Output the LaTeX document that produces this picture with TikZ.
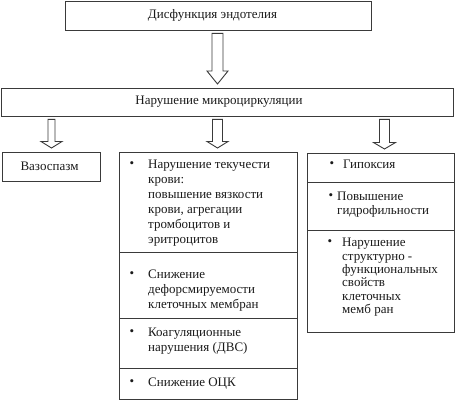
\documentclass[tikz,border=0pt]{standalone}
\usepackage{fontspec}
\setmainfont{Liberation Serif}
\usetikzlibrary{calc}
\definecolor{linegray}{HTML}{3A3A3A}
\definecolor{textblack}{HTML}{1A1A1A}
\newcommand\blockarrow[6]{% #1 x, #2 from, #3 to, #4 half shaft, #5 half head, #6 head length
  \draw[arrowline] let \p1=(#2.south), \p2=(#3.north) in
    (#1pt-#4pt,\y1-2.5pt) -- (#1pt+#4pt,\y1-2.5pt) -- (#1pt+#4pt,\y2+4pt+#6pt)
    -- (#1pt+#5pt,\y2+4pt+#6pt) -- (#1pt,\y2+4pt) -- (#1pt-#5pt,\y2+4pt+#6pt)
    -- (#1pt-#4pt,\y2+4pt+#6pt) -- cycle;}
\begin{document}
\begin{tikzpicture}[x=1pt,y=-1pt,
  box/.style={draw=linegray, line width=0.9pt, rectangle, inner sep=0pt, anchor=north west},
  txt/.style={font=\fontsize{13}{15}\selectfont, text=textblack, inner sep=0pt, align=left, anchor=north west},
  txtr/.style={txt, font=\fontsize{13}{13.4}\selectfont},
  ctxt/.style={font=\fontsize{13}{15}\selectfont, text=textblack, inner sep=0pt},
  bul/.style={font=\fontsize{13}{15}\selectfont, text=textblack, inner sep=0pt},
  arrowline/.style={draw=linegray, line width=0.9pt, fill=white, line join=miter}]
\useasboundingbox (0,0) rectangle (455,400);
% boxes
\node[box, minimum width=306pt, minimum height=29.5pt] (top) at (65,0.5) {};
\node[box, minimum width=452pt, minimum height=28pt] (micro) at (1,88) {};
\node[box, minimum width=98pt, minimum height=29pt] (vaso) at (2,152) {};
\node[box, minimum width=178pt, minimum height=100pt] (m1) at (119,152) {};
\node[box, minimum width=178pt, minimum height=66pt] (m2) at (119,252) {};
\node[box, minimum width=178pt, minimum height=50pt] (m3) at (119,318) {};
\node[box, minimum width=178pt, minimum height=31pt] (m4) at (119,368) {};
\node[box, minimum width=147pt, minimum height=29pt] (r1) at (307,153) {};
\node[box, minimum width=147pt, minimum height=48pt] (r2) at (307,182) {};
\node[box, minimum width=147pt, minimum height=102pt] (r3) at (307,230) {};
% texts
\node[ctxt] (ttop) at (212.5,15) {Дисфункция эндотелия};
\node[ctxt] (tmicro) at (219,101.5) {Нарушение микроциркуляции};
\node[ctxt] (tvaso) at (49.5,166) {Вазоспазм};
\node[bul] (b1) at (132,165) {•};
\node[txt] (t1) at (148,160) {Нарушение текучести\\крови:\\повышение вязкости\\крови, агрегации\\тромбоцитов и\\эритроцитов};
\node[bul] (b2) at (132,275) {•};
\node[txt] (t2) at (148,270) {Снижение\\дефорсмируемости\\клеточных мембран};
\node[bul] (b3) at (132,333) {•};
\node[txt] (t3) at (148,328) {Коагуляционные\\нарушения (ДВС)};
\node[bul] (b4) at (132,383) {•};
\node[txt] (t4) at (148,378) {Снижение ОЦК};
\node[bul] (b5) at (332,165) {•};
\node[txtr] (t5) at (343,160) {Гипоксия};
\node[bul] (b6) at (331,197) {•};
\node[txtr] (t6) at (337,192) {Повышение\\гидрофильности};
\node[bul] (b7) at (330,243) {•};
\node[txtr] (t7) at (342,238) {Нарушение\\структурно -\\функциональных\\свойств\\клеточных\\мемб ран};
% arrows
\blockarrow{217.5}{top}{micro}{5.5}{10.5}{13}
\blockarrow{51.5}{micro}{vaso}{3.5}{10.5}{6.5}
\blockarrow{217.5}{micro}{m1}{5}{10.5}{6.5}
\blockarrow{384.5}{micro}{r1}{5}{11}{6.5}
\end{tikzpicture}
\end{document}
